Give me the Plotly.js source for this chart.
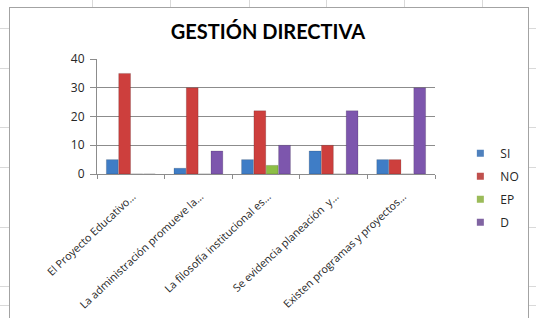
<!DOCTYPE html>
<html>
<head>
<meta charset="utf-8">
<script src="https://cdn.plot.ly/plotly-3.0.1.min.js"></script>
<style>
  html, body { margin:0; padding:0; width:536px; height:318px; overflow:hidden; background:#ffffff; }
  .gh { position:absolute; left:0; width:536px; height:1px; background:#d9d9d9; }
  .gv { position:absolute; top:0; width:1px; height:318px; background:#d9d9d9; }
  #frame { position:absolute; left:9px; top:7px; width:518px; height:312px; background:#ffffff; border:1.5px solid #a3a3a3; }
  #chart { position:absolute; left:0; top:0; width:536px; height:318px; }
</style>
</head>
<body>
<div class="gh" style="top:28px"></div>
<div class="gh" style="top:68px"></div>
<div class="gh" style="top:127px"></div>
<div class="gh" style="top:167px"></div>
<div class="gh" style="top:227px"></div>
<div class="gh" style="top:286px"></div>
<div class="gh" style="top:305px"></div>
<div class="gv" style="left:92px"></div>
<div class="gv" style="left:170px"></div>
<div class="gv" style="left:249px"></div>
<div class="gv" style="left:326px"></div>
<div class="gv" style="left:404px"></div>
<div class="gv" style="left:482px"></div>
<div id="frame"></div>
<div id="chart"></div>
<script>
const categories = [
  "El Proyecto Educativo…",
  "La administración promueve la…",
  "La filosofía institucional es…",
  "Se evidencia planeación  y…",
  "Existen programas y proyectos…"
];
const seriesNames = ["SI", "NO", "EP", "D"];
const SI = [5, 2, 5, 8, 5];
const NO = [35, 30, 22, 10, 5];
const EP = [0, 0, 3, 0, 0];
const D  = [0, 8, 10, 22, 30];
const yTicks = [0, 10, 20, 30, 40];

const values = [SI, NO, EP, D];
const colors = ["#3F7DC6", "#CD3F3D", "#8DBE46", "#7D56AD"];
const legendColors = ["#4F81BD", "#C0504D", "#9BBB59", "#8064A2"];

const traces = [];
seriesNames.forEach((name, i) => {
  traces.push({
    type: "bar",
    name: name,
    x: categories,
    y: values[i],
    marker: { color: colors[i], line: { color: "rgba(0,0,0,0.25)", width: 0.6 } },
    showlegend: false,
    legendgroup: name,
    hoverinfo: "y+name"
  });
});
seriesNames.forEach((name, i) => {
  traces.push({
    type: "scatter",
    mode: "markers",
    name: name,
    x: [null],
    y: [null],
    marker: { symbol: "square", size: 7, color: legendColors[i] },
    legendgroup: name,
    showlegend: true
  });
});

const layout = {
  width: 536,
  height: 318,
  paper_bgcolor: "rgba(0,0,0,0)",
  plot_bgcolor: "rgba(0,0,0,0)",
  margin: { l: 97, r: 89, t: 59, b: 144, pad: 0 },
  barmode: "group",
  bargap: 0.27,
  bargroupgap: 0.04,
  title: {
    text: "<b>GESTIÓN DIRECTIVA</b>",
    font: { family: "Lato, 'Open Sans', sans-serif", size: 20, color: "#000000" },
    x: 0.5, xanchor: "center", xref: "container",
    y: 0.9, yanchor: "middle", yref: "container"
  },
  xaxis: {
    type: "category",
    tickangle: -43,
    tickfont: { family: "'Open Sans', sans-serif", size: 10.8, color: "#262626" },
    showline: true, linecolor: "#8c8c8c", linewidth: 1,
    ticks: "outside", ticklen: 4, tickcolor: "#8c8c8c",
    tickson: "boundaries",
    ticklabelshift: 2,
    ticklabelstandoff: 11,
    showgrid: false,
    fixedrange: true
  },
  yaxis: {
    range: [0, 40],
    tickvals: yTicks,
    tickfont: { family: "'Open Sans', sans-serif", size: 12, color: "#262626" },
    showline: true, linecolor: "#8c8c8c", linewidth: 1,
    ticks: "outside", ticklen: 6, tickcolor: "#8c8c8c",
    ticklabelstandoff: 3,
    showgrid: true, gridcolor: "#8c8c8c", gridwidth: 1,
    zeroline: false,
    fixedrange: true
  },
  legend: {
    x: 1.075, xanchor: "left",
    y: -0.12, yanchor: "middle",
    font: { family: "'Open Sans', sans-serif", size: 12, color: "#262626" },
    tracegroupgap: 4,
    bgcolor: "rgba(0,0,0,0)"
  },
  showlegend: true
};

Plotly.newPlot("chart", traces, layout, { displayModeBar: false, staticPlot: true });
</script>
</body>
</html>
